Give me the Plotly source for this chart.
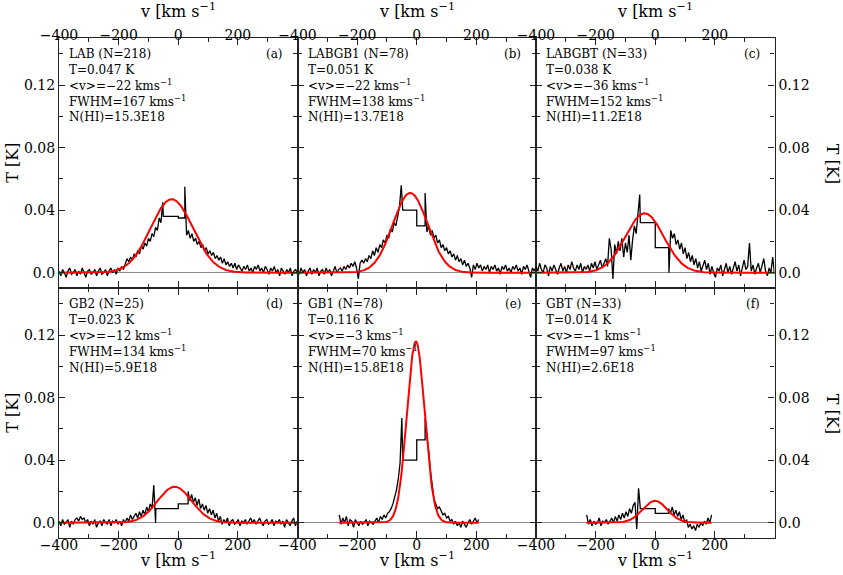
import numpy as np
import plotly.graph_objects as go

# ---------------- data ----------------
names = ["LAB", "LABGB1", "LABGBT", "GB2", "GB1", "GBT"]
nsrc = [218, 78, 33, 25, 78, 33]
fit_T = [0.047, 0.051, 0.038, 0.023, 0.116, 0.014]      # K
fit_v = [-22, -22, -36, -12, -3, -1]                     # km/s
fit_fwhm = [167, 138, 152, 134, 70, 97]                  # km/s
nhi = ["15.3E18", "13.7E18", "11.2E18", "5.9E18", "15.8E18", "2.6E18"]
letters = ["(a)", "(b)", "(c)", "(d)", "(e)", "(f)"]

x_tickvals = [-400, -200, 0, 200]
x_ticktext = ["\u2212400", "\u2212200", "0", "200"]
x_minor = [-300, -100, 100, 300]
y_tickvals = [0.0, 0.04, 0.08, 0.12]
y_ticktext = ["0.0", "0.04", "0.08", "0.12"]
y_minor = [0.02, 0.06, 0.10, 0.14]

chan = 6  # km/s channel spacing of the noisy parts

# spectra in mK: left noisy part (start velocity, values), binned part (edges, values), right noisy part
a_left_v0 = -400
a_left = [1, -2, 2, 0, -3, 1, 3, -1, 0, 2, -2, 1, -1, 3, 0, -3, 1, 2, -1, 0, 2, -2, 1, 3, -1, 0, 2, -2, 1, 3,
          0, 2, -1, 3, 1, 4, 2, 6, 9, 7, 10, 8, 12, 10, 14, 12, 17, 15, 19, 17, 22, 20, 25, 23, 29, 27, 35, 32, 45]
a_bin_edges = [-50, 0, 22]
a_bin_vals = [36, 35]
a_right_v0 = 22
a_right = [55, 24, 27, 22, 25, 20, 22, 18, 20, 16, 18, 14, 16, 12, 14, 11, 13, 9, 11, 8, 10, 6, 9, 5, 7, 4, 6, 3,
           6, 2, 5, 3, 1, 4, 2, 5, 1, 3, 0, 4, 2, 5, 1, 3, 0, 4, 2, -1, 3, 1, 4, 0, 2, -2, 3, 1, -1, 2, 0, 3, -2,
           1, 2, -1]

b_left_v0 = -400
b_left = [2, -1, 3, 0, 2, -2, 1, 3, -1, 2, 0, 3, -2, 1, 2, -1, 3, 0, 2, -2, 1, 4, 0, 2, 3, 1, 4, 2, 5, 3,
          6, 4, 7, 3, -4, 6, 8, 6, 9, 7, 11, 9, 14, 11, 16, 13, 18, 16, 21, 19, 24, 22, 28, 26, 32, 30, 36, 42, 56]
b_bin_edges = [-47, 0, 28]
b_bin_vals = [40, 30]
b_right_v0 = 28
b_right = [51, 26, 30, 24, 27, 22, 24, 19, 21, 16, 18, 14, 16, 12, 14, 10, 12, 8, 11, 7, 9, 5, 8, 4, 6, 3, -3,
           5, 2, 6, 3, 5, 1, 4, 2, 5, 0, 4, 2, 5, 1, 3, -1, 4, 2, 5, 1, 3, 0, 4, 2, 5, 1, 3, -1, 4, 2, 5, 0, -3,
           3, 1, 4]

c_left_v0 = -400
c_left = [4, 1, 6, 2, 0, 5, 3, -2, 4, 1, 5, 2, -1, 3, 6, 1, 4, 0, 5, 2, 7, 3, 1, 5, 2, 6, 0, 4, 2, 5,
          1, 6, 3, 7, 2, 5, 8, 3, 6, 9, 4, 22, 15, -4, 18, 12, 20, 14, 22, 10, 19, 13, 24, 8, 21, 30, 25, 38, 50]
c_bin_edges = [-50, 0, 45]
c_bin_vals = [32, 16]
c_right_v0 = 46
c_right = [0, 27, 22, 25, 18, 21, 15, 19, 12, 16, 9, 13, 7, 11, 5, 9, 3, 7, 1, 5, 8, 2, 6, -1, 4, 0, -3, 3,
           1, 5, -2, 2, 6, 0, 4, -1, 3, 7, 1, 5, -2, 3, 8, 2, 4, 19, 1, 5, -1, 3, 6, 0, 4, 9, 1, -2, 3, 0, 10, -1]

d_left_v0 = -400
d_left = [1, -2, 2, -1, 0, 2, -3, 1, -1, 2, 3, 1, 4, 2, 3, 0, 2, -2, 1, -1, 2, -3, 0, 1, -2, 2, 0, -1, 2, -2,
          1, 0, 2, -1, 1, -2, 2, 0, 3, 1, 5, 2, 4, 6, 3, 7, 4, 8, 5, 10, 7, 12, 9, 24, 0]
d_bin_edges = [-75, 0, 33]
d_bin_vals = [9, 12]
d_right_v0 = 33
d_right = [20, 14, 18, 13, 16, 11, 15, 9, 12, 8, 11, 6, 9, 5, 8, 3, 6, 1, 4, -1, 2, 0, 3, -2, 1, 2, -1, 0, 2,
           -2, 1, 0, 2, -1, 1, 3, 0, 2, -1, 1, 3, 0, -2, 1, 2, -1, 0, 2, -2, 1, 0, 2, -1, 1, -3, 2, 0, -2, 1, 3,
           -2, 1]

e_left_v0 = -260
e_left = [5, -1, 3, 0, 4, -2, 2, 1, -3, 2, 0, -2, 1, -1, 0, 2, -2, 1, 0, -1, 1, 3, 0, 4, 2, 5, 3, 6, 7, 9,
          12, 16, 21, 28, 38, 67]
e_bin_edges = [-47, 0, 28]
e_bin_vals = [40, 53]
e_right_v0 = 28
e_right = [67, 55, 46, 33, 22, 15, 12, 9, 10, 7, 5, 6, 3, 4, 1, 2, -1, 1, -2, 0, -3, 1, -1, -3, 0, 2, -1, 1,
           3, 0, 2]

f_left_v0 = -230
f_left = [5, -1, 2, -2, 1, -1, 0, 3, -2, 1, 0, 2, -1, 1, 3, 0, 4, 1, 5, 2, 6, 3, 7, 4, 9, 6, 11, 13, -4,
          22, 12]
f_bin_edges = [-50, 0, 45]
f_bin_vals = [9, 6]
f_right_v0 = 45
f_right = [9, 6, 10, 5, 8, 4, 7, 2, 5, 0, 2, -3, -1, -4, -2, -5, -1, -3, 0, -2, 1, -1, 3, 0, 5]

spectra = [
    (a_left_v0, a_left, a_bin_edges, a_bin_vals, a_right_v0, a_right),
    (b_left_v0, b_left, b_bin_edges, b_bin_vals, b_right_v0, b_right),
    (c_left_v0, c_left, c_bin_edges, c_bin_vals, c_right_v0, c_right),
    (d_left_v0, d_left, d_bin_edges, d_bin_vals, d_right_v0, d_right),
    (e_left_v0, e_left, e_bin_edges, e_bin_vals, e_right_v0, e_right),
    (f_left_v0, f_left, f_bin_edges, f_bin_vals, f_right_v0, f_right),
]

# ---------------- layout geometry (pixels) ----------------
W, H = 843, 575
col_px = [59, 297.5, 536, 774.5]
row_px = [38.3, 288.3, 538.3]


def px_x(p):
    return p / W


def px_y(p):
    return 1 - p / H


FONT_TICK = dict(family="DejaVu Serif", size=14, color="black")
FONT_TITLE = dict(family="DejaVu Serif", size=16, color="black")
FONT_TXT = dict(family="DejaVu Serif", size=12, color="black")

fig = go.Figure()
layout = dict(width=W, height=H, margin=dict(l=0, r=0, t=0, b=0, pad=0, autoexpand=False),
              paper_bgcolor="white", plot_bgcolor="white", showlegend=False)
annotations = []


def fmt_minus(v):
    return ("\u2212" + str(abs(v))) if v < 0 else str(v)


for i in range(6):
    row, col = divmod(i, 3)
    k = "" if i == 0 else str(i + 1)
    xa, ya = "x" + k, "y" + k

    lv0, lvals, edges, bvals, rv0, rvals = spectra[i]
    lv = lv0 + chan * np.arange(len(lvals))
    rv = rv0 + chan * np.arange(len(rvals))
    xs = list(lv)
    ys = [v / 1000 for v in lvals]
    for j, bv in enumerate(bvals):
        xs += [edges[j], edges[j + 1]]
        ys += [bv / 1000, bv / 1000]
    xs += list(rv)
    ys += [v / 1000 for v in rvals]

    fig.add_trace(go.Scatter(x=xs, y=ys, mode="lines", line=dict(color="black", width=1.3),
                             xaxis=xa, yaxis=ya, hoverinfo="skip"))

    vmin, vmax = min(xs), max(xs)
    vv = np.linspace(vmin, vmax, 600)
    gauss = fit_T[i] * np.exp(-4 * np.log(2) * (vv - fit_v[i]) ** 2 / fit_fwhm[i] ** 2)
    fig.add_trace(go.Scatter(x=vv, y=gauss, mode="lines", line=dict(color="#ff0000", width=2),
                             xaxis=xa, yaxis=ya, hoverinfo="skip"))

    layout["xaxis" + k] = dict(
        domain=[px_x(col_px[col]), px_x(col_px[col + 1])], anchor=ya, automargin=False,
        range=[-400, 400], tickmode="array", tickvals=x_tickvals, ticktext=x_ticktext,
        ticks="inside", ticklen=7, tickwidth=1, tickcolor="#222",
        minor=dict(tickmode="array", tickvals=x_minor, ticks="inside", ticklen=4, tickwidth=1, tickcolor="#222"),
        showline=True, linecolor="#222", linewidth=1.2, mirror="ticks",
        side="top" if row == 0 else "bottom", showgrid=False, zeroline=False,
        tickfont=FONT_TICK, ticklabelstandoff=(-8 if row == 0 else -6),
    )
    layout["yaxis" + k] = dict(
        domain=[px_y(row_px[row + 1]), px_y(row_px[row])], anchor=xa, automargin=False,
        range=[-0.01, 0.15], tickmode="array", tickvals=y_tickvals, ticktext=y_ticktext,
        ticks="inside", ticklen=6, tickwidth=1, tickcolor="#222",
        minor=dict(tickmode="array", tickvals=y_minor, ticks="inside", ticklen=4, tickwidth=1, tickcolor="#222"),
        showline=True, linecolor="#222", linewidth=1.2, mirror="ticks",
        side="right" if col == 2 else "left", showticklabels=(col != 1),
        showgrid=False, zeroline=True, zerolinecolor="#8c8c8c", zerolinewidth=1,
        tickfont=FONT_TICK,
    )

    # text block
    lines = [f"{names[i]} (N={nsrc[i]})",
             f"T={fit_T[i]:.3f} K",
             f"&lt;v&gt;={fmt_minus(fit_v[i])} kms<sup>\u22121</sup>",
             f"FWHM={fit_fwhm[i]} kms<sup>\u22121</sup>",
             f"N(HI)={nhi[i]}"]
    x0 = col_px[col] + 8
    for j, t in enumerate(lines):
        yb = row_px[row] + 17.5 + 7.5 + 15.8 * j
        annotations.append(dict(text=t, x=px_x(x0), y=px_y(yb), xref="paper", yref="paper",
                                xanchor="left", yanchor="bottom", showarrow=False, font=FONT_TXT))
    annotations.append(dict(text=letters[i], x=px_x(col_px[col + 1] - 13), y=px_y(row_px[row] + 17.5 + 7.5),
                            xref="paper", yref="paper", xanchor="right", yanchor="bottom",
                            showarrow=False, font=FONT_TXT))

# axis titles
for col in range(3):
    cx = (col_px[col] + col_px[col + 1]) / 2
    for yb in (23, 572):
        annotations.append(dict(text="v [km s<sup>\u22121</sup>", x=px_x(cx), y=px_y(yb), xref="paper",
                                yref="paper", xanchor="center", yanchor="bottom", showarrow=False,
                                font=FONT_TITLE))
for row in range(2):
    cy = (row_px[row] + row_px[row + 1]) / 2
    annotations.append(dict(text="T [K]", x=px_x(12.5), y=px_y(cy), xref="paper", yref="paper",
                            xanchor="center", yanchor="middle", textangle=-90, showarrow=False,
                            font=FONT_TITLE))
    annotations.append(dict(text="T [K]", x=px_x(832.5), y=px_y(cy), xref="paper", yref="paper",
                            xanchor="center", yanchor="middle", textangle=90, showarrow=False,
                            font=FONT_TITLE))

layout["annotations"] = annotations
fig.update_layout(**layout)
fig.write_html("out.html", config={"displayModeBar": False},
               post_script="document.body.style.margin='0';document.body.style.overflow='hidden';")
